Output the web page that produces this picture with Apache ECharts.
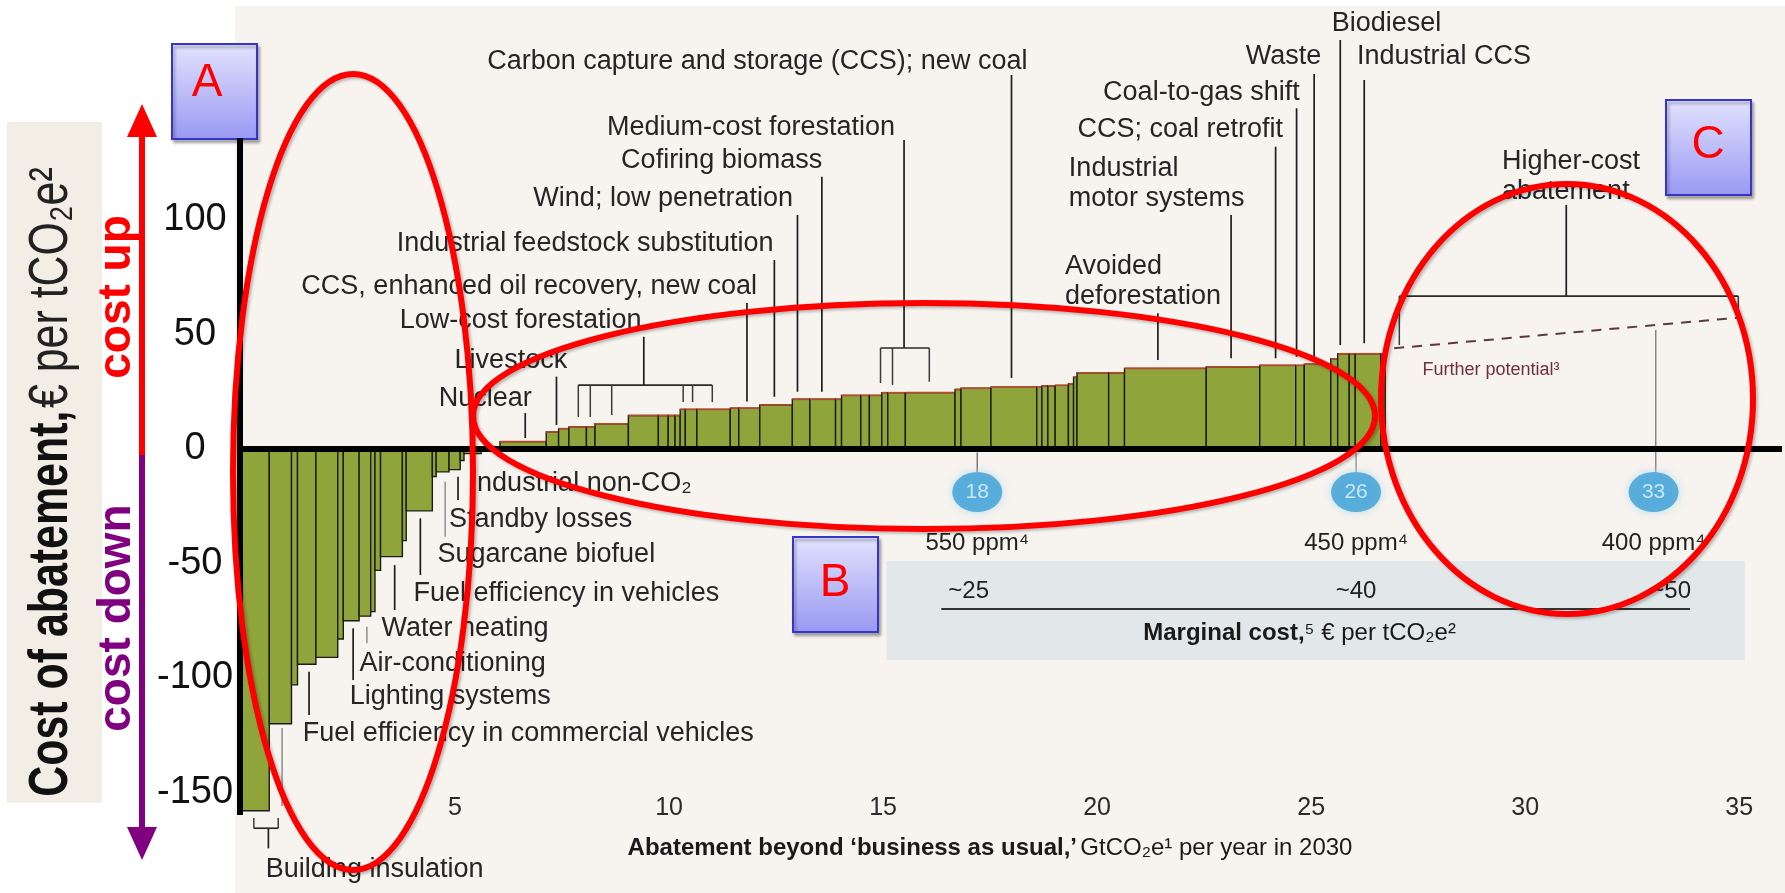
<!DOCTYPE html>
<html>
<head>
<meta charset="utf-8">
<script src="https://cdn.jsdelivr.net/npm/echarts@6/dist/echarts.min.js"></script>
<style>
html, body { margin: 0; padding: 0; background: #fff; }
#chart { width: 1785px; height: 893px; }
</style>
</head>
<body>
<div id="chart"></div>
<script>
// abatement potential of each measure (GtCO2e per year) = bar widths, in curve order
var widths = [0.66, 0.52, 0.14, 0.43, 0.51, 0.13, 0.37, 0.27, 0.10, 0.13, 0.51, 0.09, 0.61, 0.09, 0.30, 0.26, 0.09,
  0.40, 0.44,
  1.08, 0.29, 0.24, 0.41, 0.20, 0.78, 0.70, 0.23, 0.16, 0.12, 0.12, 0.27, 0.78, 0.20, 0.49,
  0.76, 0.41, 0.60, 0.14, 0.45, 0.20, 0.29, 0.14, 0.41, 1.16, 0.14, 0.70, 1.07, 0.12, 0.14, 0.17, 0.31, 0.12, 0.08,
  0.74, 0.37, 1.91, 1.25, 0.84, 0.20, 0.62, 0.16, 0.27, 0.14, 0.60, 0.10];
// cost of abatement (€ per tCO2e) = bar heights
var costs = [-158, -120, -103, -94, -91, -83, -75, -73, -71, -53, -47, -40, -27, -12, -10, -9, -5,
  -2, 1,
  3.2, 7.4, 8.9, 9.6, 9.6, 11, 14.6, 14.6, 14.6, 14.6, 17.3, 17.3, 17.3, 17.8, 17.8,
  19.2, 21.7, 21.7, 21.7, 23.4, 23.4, 23.4, 24.6, 24.6, 24.6, 26, 26.5, 27, 27, 27.5, 27.5, 27.8, 28.5, 31.4,
  33.3, 33.3, 35.2, 35.9, 36.5, 36.5, 37, 39.4, 41.6, 41.6, 41.6, 41.6];

var xTicks = [5, 10, 15, 20, 25, 30, 35];
var yTicks = [-150, -100, -50, 0, 50, 100];

// cumulative abatement markers and the concentration targets under them
var bubbleX = [17.2, 26.05, 33];
var bubbleLabels = ['18', '26', '33'];
var ppmLabels = ['550 ppm⁴', '450 ppm⁴', '400 ppm⁴'];
var marginalX = [17.0, 26.05, 33.4];
var marginalCosts = ['~25', '~40', '~50'];

// "further potential" beyond the curve
var furtherPotential = [[26.94, 44], [35.06, 57.5]];

// labels with leader lines, placed in chart units
var notes = [
  { t: 'Carbon capture and storage (CCS); new coal', x: 5.75, y: 169.0, lx: 18.0, ly: [163.3, 31.0] },
  { t: 'Medium-cost forestation', x: 8.55, y: 140.5, lx: 15.49, ly: [134.9, 44.1],
    br: { y: 44.1, x0: 14.94, x1: 16.08, ticks: [[14.94, 28.8], [15.22, 28.0], [16.08, 29.4]] } },
  { t: 'Cofiring biomass', x: 8.88, y: 125.9, lx: 13.57, ly: [118.9, 25.0] },
  { t: 'Wind; low penetration', x: 6.83, y: 109.5, lx: 13.0, ly: [102.2, 25.0] },
  { t: 'Industrial feedstock substitution', x: 3.64, y: 89.8, lx: 12.46, ly: [82.5, 22.8] },
  { t: 'CCS, enhanced oil recovery, new coal', x: 1.41, y: 70.9, lx: 11.82, ly: [63.8, 20.7] },
  { t: 'Low-cost forestation', x: 3.71, y: 56.3, lx: 9.41, ly: [49.0, 27.9],
    br: { y: 27.9, x0: 7.88, x1: 11.01, ticks: [[7.88, 14.0], [8.16, 14.0], [8.66, 14.8], [10.33, 20.5], [10.55, 20.5], [11.01, 20.5]] } },
  { t: 'Livestock', x: 4.99, y: 38.6, lx: 7.37, ly: [31.6, 10.5] },
  { t: 'Nuclear', x: 4.62, y: 22.1, lx: 6.64, ly: [15.7, 4.8] },
  { t: 'Avoided\ndeforestation', x: 19.25, y: 73.2, lx: 21.42, ly: [59.3, 38.9] },
  { t: 'Industrial\nmotor systems', x: 19.34, y: 116.0, lx: 23.13, ly: [102.2, 39.6] },
  { t: 'CCS; coal retrofit', x: 19.54, y: 139.3, lx: 24.17, ly: [132.0, 39.6] },
  { t: 'Coal-to-gas shift', x: 20.14, y: 155.6, lx: 24.66, ly: [148.8, 40.3] },
  { t: 'Waste', x: 23.47, y: 171.3, lx: 25.07, ly: [163.8, 40.3] },
  { t: 'Biodiesel', x: 25.48, y: 185.6, lx: 25.68, ly: [178.6, 45.4] },
  { t: 'Industrial CCS', x: 26.07, y: 171.3, lx: 26.24, ly: [161.1, 46.2] },
  { t: 'Higher-cost\nabatement', x: 29.46, y: 118.9, lx: 30.96, ly: [106.6, 66.8],
    br: { y: 66.8, x0: 27.06, x1: 34.98, ticks: [[27.06, 45.4], [34.98, 58.3]] } },
  { t: 'Industrial non-CO₂', x: 5.34, y: -15.0, lx: 5.07, ly: [-12.1, -22.3] },
  { t: 'Standby losses', x: 4.86, y: -30.7, lx: 4.77, ly: [-14.3, -38.3], gray: true },
  { t: 'Sugarcane biofuel', x: 4.59, y: -46.3, lx: 4.19, ly: [-30.3, -55.0] },
  { t: 'Fuel efficiency in vehicles', x: 4.03, y: -63.0, lx: 3.59, ly: [-50.7, -70.3] },
  { t: 'Water heating', x: 3.28, y: -78.6, lx: 2.94, ly: [-77.6, -84.8], gray: true },
  { t: 'Air-conditioning', x: 2.77, y: -93.6, lx: 2.62, ly: [-78.3, -100.9] },
  { t: 'Lighting systems', x: 2.54, y: -108.2, lx: 1.59, ly: [-97.3, -116.2] },
  { t: 'Fuel efficiency in commercial vehicles', x: 1.44, y: -124.1, lx: 0.96, ly: [-121.8, -155.9], gray: true },
  { t: 'Building insulation', x: 0.58, y: -183.8, lx: 0.64, ly: [-165.6, -174.4],
    br: { y: -165.6, x0: 0.30, x1: 0.87, ticks: [[0.30, -161.1], [0.87, -161.1]] } }
];

var SANS = "'Liberation Sans', Arial, sans-serif";
var NARROW = "'Liberation Sans Narrow', 'Liberation Sans', Arial, sans-serif";
var NOTE_FONT = '27px ' + SANS;

// bar rows: [start, end, cost]
var bars = [];
var acc = 0;
for (var i = 0; i < widths.length; i++) {
  bars.push([acc, acc + widths[i], costs[i]]);
  acc += widths[i];
}

function renderBar(params, api) {
  var x0 = api.value(0), x1 = api.value(1), c = api.value(2);
  var a = api.coord([x0, c]);
  var b = api.coord([x1, 0]);
  var kids = [{
    type: 'rect',
    shape: { x: a[0], y: Math.min(a[1], b[1]), width: b[0] - a[0], height: Math.abs(b[1] - a[1]) },
    style: { fill: '#8fa43a', stroke: '#1c1c14', lineWidth: 1.4 }
  }];
  if (c > 2) {
    kids.push({ type: 'line', shape: { x1: a[0], y1: a[1], x2: b[0], y2: a[1] },
      style: { stroke: '#b8492c', lineWidth: 1.6 } });
  }
  return { type: 'group', children: kids };
}

function renderNotes(params, api) {
  var P = function (x, y) { return api.coord([x, y]); };
  var kids = [];
  function seg(p, q, col, w) {
    kids.push({ type: 'line', shape: { x1: p[0], y1: p[1], x2: q[0], y2: q[1] },
      style: { stroke: col, lineWidth: w } });
  }
  // marginal cost band
  var b0 = P(15.08, -48.9), b1 = P(35.13, -92.1);
  kids.push({ type: 'rect', shape: { x: b0[0], y: b0[1], width: b1[0] - b0[0], height: b1[1] - b0[1] },
    style: { fill: '#e2e8e9' } });
  seg(P(16.36, -69.9), P(33.85, -69.9), '#333', 2);
  marginalCosts.forEach(function (m, k) {
    var p = P(marginalX[k], -62);
    kids.push({ type: 'text', style: { text: m, x: p[0], y: p[1], fill: '#222', font: '24px ' + NARROW,
      textAlign: 'center', textVerticalAlign: 'middle' } });
  });
  var mc = P(24.73, -80.5);
  kids.push({ type: 'text', style: {
    text: '{b|Marginal cost,}{r|⁵ € per tCO₂e²}', x: mc[0], y: mc[1], textAlign: 'center', textVerticalAlign: 'middle',
    rich: { b: { font: 'bold 24px ' + NARROW, fill: '#1a1a1a' }, r: { font: '24px ' + NARROW, fill: '#1a1a1a' } } } });

  // ppm targets under the bubbles, with their stems
  ppmLabels.forEach(function (s, k) {
    var p = P(bubbleX[k], -41);
    kids.push({ type: 'text', style: { text: s, x: p[0], y: p[1], fill: '#222', font: '24px ' + NARROW,
      textAlign: 'center', textVerticalAlign: 'middle' } });
  });
  seg(P(bubbleX[0], -1.5), P(bubbleX[0], -10), '#777', 1.5);
  seg(P(bubbleX[1], -1.5), P(bubbleX[1], -10), '#999', 1.5);
  seg(P(bubbleX[2] + 0.05, 52), P(bubbleX[2] + 0.05, -10.5), '#888', 1.5);

  // further potential caption
  var fp = P(27.6, 34.5);
  kids.push({ type: 'text', style: { text: 'Further potential³', x: fp[0], y: fp[1], fill: '#6e2f42',
    font: '18px ' + SANS, textAlign: 'left', textVerticalAlign: 'middle' } });

  notes.forEach(function (n) {
    var t = P(n.x, n.y);
    kids.push({ type: 'text', style: { text: n.t, x: t[0], y: t[1], fill: '#252525', font: NOTE_FONT,
      lineHeight: 30, textAlign: 'left', textVerticalAlign: 'middle' } });
    var col = n.gray ? '#9a9a9a' : '#1e1e1e';
    seg(P(n.lx, n.ly[0]), P(n.lx, n.ly[1]), col, 1.7);
    if (n.br) {
      seg(P(n.br.x0, n.br.y), P(n.br.x1, n.br.y), '#2a2a2a', 1.7);
      n.br.ticks.forEach(function (tk) { seg(P(tk[0], n.br.y), P(tk[0], tk[1]), '#3a3a3a', 1.5); });
    }
  });
  return { type: 'group', children: kids };
}

function renderAxes(params, api) {
  var z0 = api.coord([0, 0]), z1 = api.coord([36, 0]);
  var v0 = api.coord([0, 135.8]), v1 = api.coord([0, -159.8]);
  return { type: 'group', children: [
    { type: 'line', shape: { x1: z0[0], y1: z0[1], x2: z1[0], y2: z1[1] }, style: { stroke: '#000', lineWidth: 6 } },
    { type: 'line', shape: { x1: v0[0] - 1, y1: v0[1], x2: v1[0] - 1, y2: v1[1] }, style: { stroke: '#000', lineWidth: 6 } }
  ] };
}

function box(x, y, letter, lx, ly) {
  return { type: 'group', z: 120, children: [
    { type: 'rect', shape: { x: x, y: y, width: 85, height: 95 },
      style: { fill: { type: 'linear', x: 0, y: 0, x2: 0, y2: 1,
        colorStops: [{ offset: 0, color: '#e3e3fe' }, { offset: 1, color: '#9898f3' }] },
        stroke: '#3535c8', lineWidth: 2, shadowColor: 'rgba(0,0,0,0.3)', shadowBlur: 3, shadowOffsetX: 2, shadowOffsetY: 3 } },
    { type: 'text', style: { text: letter, x: lx, y: ly, fill: '#ff0000', font: '46px ' + SANS,
      textAlign: 'center', textVerticalAlign: 'middle' } }
  ] };
}

function ring(cx, cy, rx, ry) {
  return { type: 'ellipse', z: 110, shape: { cx: cx, cy: cy, rx: rx, ry: ry },
    style: { fill: null, stroke: '#ff0000', lineWidth: 6, shadowColor: 'rgba(0,0,0,0.25)', shadowBlur: 3,
      shadowOffsetX: 2, shadowOffsetY: 2 } };
}

var chart = echarts.init(document.getElementById('chart'));

var option = {
  animation: false,
  backgroundColor: '#ffffff',
  grid: { left: 241, top: 105.5, width: 1544, height: 687 },
  xAxis: {
    type: 'value', min: 0, max: 36, interval: 5,
    axisLine: { show: false }, axisTick: { show: false }, splitLine: { show: false },
    axisLabel: {
      margin: 3, color: '#2a2a2a', fontSize: 25, fontFamily: NARROW,
      formatter: function (v) { return xTicks.indexOf(v) >= 0 ? String(v) : ''; }
    }
  },
  yAxis: {
    type: 'value', min: -150, max: 150, interval: 50,
    axisLine: { show: false }, axisTick: { show: false }, splitLine: { show: false },
    axisLabel: {
      margin: 46, align: 'center', color: '#111', fontSize: 38, fontFamily: SANS,
      formatter: function (v) { return yTicks.indexOf(v) >= 0 ? String(v) : ''; }
    }
  },
  series: [
    {
      type: 'custom', name: 'notes', clip: false, z: 3, silent: true,
      renderItem: renderNotes, data: [[0, 0]]
    },
    {
      type: 'custom', name: 'abatement', clip: false, z: 4,
      renderItem: renderBar,
      encode: { x: [0, 1], y: 2 },
      data: bars
    },
    {
      type: 'custom', name: 'axes', clip: false, z: 5, silent: true,
      renderItem: renderAxes, data: [[0, 0]]
    },
    {
      type: 'line', name: 'further', z: 5, symbol: 'none',
      lineStyle: { color: '#5c3a42', width: 2, type: [10, 8] },
      data: furtherPotential
    },
    {
      type: 'scatter', name: 'cumulative', z: 6,
      symbol: 'circle', symbolSize: [50, 40],
      itemStyle: { color: '#3d9fd4', shadowColor: '#a8d9f0', shadowBlur: 10 },
      label: {
        show: true, position: 'inside', color: '#e6f6ff', fontSize: 21, fontFamily: SANS,
        formatter: function (p) { return bubbleLabels[p.dataIndex]; }
      },
      data: bubbleX.map(function (x) { return [x, -18.8]; })
    }
  ],
  graphic: [
    // chart paper
    { type: 'rect', z: -10, shape: { x: 235, y: 6, width: 1550, height: 887 }, style: { fill: '#f7f3ee' } },
    { type: 'rect', z: -10, shape: { x: 7, y: 122, width: 95, height: 681 }, style: { fill: '#f2eee6' } },
    // rotated y title
    { type: 'text', z: 50, x: 52, y: 482, rotation: Math.PI / 2, scaleX: 0.78,
      style: { text: '{b|Cost of abatement,} {r|€ per tCO₂e²}', textAlign: 'center', textVerticalAlign: 'middle',
        rich: { b: { font: 'bold 55px ' + SANS, fill: '#111' }, r: { font: '55px ' + SANS, fill: '#222' } } } },
    // cost up / cost down arrows
    { type: 'line', z: 50, shape: { x1: 142, y1: 457, x2: 142, y2: 132 }, style: { stroke: '#ff0000', lineWidth: 6 } },
    { type: 'polygon', z: 50, shape: { points: [[127, 137], [157, 137], [142, 104]] }, style: { fill: '#ff0000' } },
    { type: 'line', z: 50, shape: { x1: 142, y1: 455, x2: 142, y2: 832 }, style: { stroke: '#800080', lineWidth: 6 } },
    { type: 'polygon', z: 50, shape: { points: [[127, 827], [157, 827], [142, 860]] }, style: { fill: '#800080' } },
    { type: 'text', z: 50, x: 117, y: 297, rotation: Math.PI / 2,
      style: { text: 'cost up', font: 'bold 46px ' + SANS, fill: '#ff0000', textAlign: 'center', textVerticalAlign: 'middle' } },
    { type: 'text', z: 50, x: 117, y: 618, rotation: Math.PI / 2,
      style: { text: 'cost down', font: 'bold 46px ' + SANS, fill: '#800080', textAlign: 'center', textVerticalAlign: 'middle' } },
    // x title
    { type: 'text', z: 50, x: 990, y: 848,
      style: { text: '{b|Abatement beyond ‘business as usual,’} {r|GtCO₂e¹ per year in 2030}',
        textAlign: 'center', textVerticalAlign: 'middle',
        rich: { b: { font: 'bold 24px ' + SANS, fill: '#1a1a1a' }, r: { font: '24px ' + SANS, fill: '#1a1a1a' } } } },
    // highlight ellipses and tags
    ring(353, 472, 120, 398),
    ring(924, 416, 451, 113),
    ring(1567, 399, 186, 215),
    box(172, 44, 'A', 207, 83),
    box(793, 537, 'B', 835, 583),
    box(1666, 100, 'C', 1708, 145)
  ]
};

chart.setOption(option);
</script>
</body>
</html>
